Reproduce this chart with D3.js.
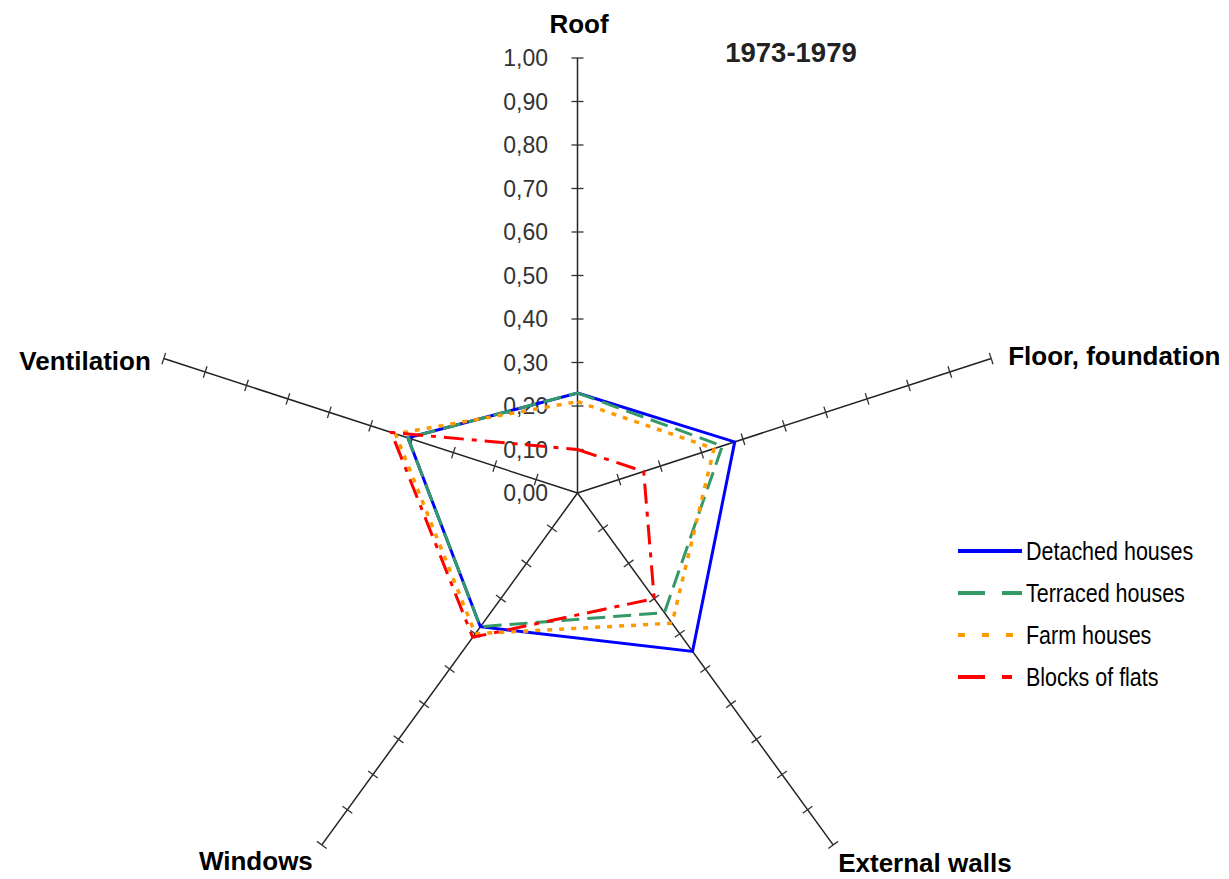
<!DOCTYPE html>
<html>
<head>
<meta charset="utf-8">
<script src="https://cdn.jsdelivr.net/npm/d3@7"></script>
<style>
  body { margin: 0; background: #fff; }
  svg { display: block; }
</style>
</head>
<body>
<div id="chart"></div>
<script>
// data
const axesNames = ["Roof", "Floor, foundation", "External walls", "Windows", "Ventilation"];
const seriesNames = ["Detached houses", "Terraced houses", "Farm houses", "Blocks of flats"];
const detached = [0.23, 0.38, 0.45, 0.38, 0.41];
const terraced = [0.23, 0.35, 0.34, 0.38, 0.41];
const farm = [0.21, 0.33, 0.37, 0.40, 0.44];
const blocks = [0.10, 0.16, 0.30, 0.41, 0.45];
const tickValues = [0, 0.1, 0.2, 0.3, 0.4, 0.5, 0.6, 0.7, 0.8, 0.9, 1.0];
const title = "1973-1979";

const width = 1229;
const height = 879;
const cx = 577.5;
const cy = 493;
const radius = 435;

// styles per series
const styles = [
  { color: "#0000ff", dash: null, legendDash: null, w: 3 },
  { color: "#339966", dash: "18,8", legendDash: "27,17", w: 3 },
  { color: "#ff9900", dash: "5,7", legendDash: "7,17", w: 3.5 },
  { color: "#ff0000", dash: "20,8,5,8", legendDash: "27,17,10,17", w: 3 }
];

// where each axis label sits relative to the axis end
const labelPos = [
  { dx: 1.5, dy: -25, anchor: "middle" },
  { dx: 17, dy: 6.5, anchor: "start" },
  { dx: 5, dy: 27, anchor: "start" },
  { dx: -9, dy: 25, anchor: "end" },
  { dx: -13, dy: 11.5, anchor: "end" }
];

const r = d3.scaleLinear().domain([0, 1]).range([0, radius]);
const angle = d3.scaleLinear().domain([0, axesNames.length]).range([-90, 270]);
const fmt = (v) => d3.format(".2f")(v).replace(".", ",");

const svg = d3
  .select("#chart")
  .append("svg")
  .attr("width", width)
  .attr("height", height);

const g = svg.append("g").attr("transform", `translate(${cx},${cy})`);

// axes with tick marks
axesNames.forEach((name, i) => {
  const ax = g.append("g").attr("transform", `rotate(${angle(i)})`);
  ax.append("line")
    .attr("x1", 0)
    .attr("y1", 0)
    .attr("x2", r(1))
    .attr("y2", 0)
    .attr("stroke", "#222")
    .attr("stroke-width", 1.5);
  ax.selectAll(".tk")
    .data(tickValues.slice(1))
    .enter()
    .append("line")
    .attr("class", "tk")
    .attr("x1", (d) => r(d))
    .attr("x2", (d) => r(d))
    .attr("y1", -6)
    .attr("y2", 6)
    .attr("stroke", "#333")
    .attr("stroke-width", 1.3);
});

// value labels on the roof axis
g.selectAll(".tl")
  .data(tickValues)
  .enter()
  .append("text")
  .attr("class", "tl")
  .attr("x", -29.5)
  .attr("y", (d) => -r(d))
  .attr("dy", "0.36em")
  .attr("text-anchor", "end")
  .style("font-family", "'Liberation Sans', Arial, sans-serif")
  .style("font-size", "23px")
  .style("fill", "#333")
  .text((d) => fmt(d));

// series polygons
const point = (v, i) => {
  const a = (angle(i) * Math.PI) / 180;
  return [r(v) * Math.cos(a), r(v) * Math.sin(a)];
};
const line = d3.line().curve(d3.curveLinearClosed);
const allSeries = [detached, terraced, farm, blocks];

allSeries.forEach((vals, s) => {
  g.append("path")
    .attr("d", line(vals.map(point)))
    .attr("fill", "none")
    .attr("stroke", styles[s].color)
    .attr("stroke-width", styles[s].w)
    .attr("stroke-dasharray", styles[s].dash)
    .attr("stroke-linejoin", "miter");
});

// axis labels
axesNames.forEach((name, i) => {
  const [x, y] = point(1, i);
  g.append("text")
    .attr("x", x + labelPos[i].dx)
    .attr("y", y + labelPos[i].dy)
    .attr("text-anchor", labelPos[i].anchor)
    .style("font-family", "'Liberation Sans', Arial, sans-serif")
    .style("font-weight", "bold")
    .style("font-size", "26px")
    .style("fill", "#000")
    .text(name);
});

// title
svg.append("text")
  .attr("x", 791)
  .attr("y", 62)
  .attr("text-anchor", "middle")
  .style("font-family", "'Liberation Sans', Arial, sans-serif")
  .style("font-weight", "bold")
  .style("font-size", "27.5px")
  .style("fill", "#222")
  .text(title);

// legend (narrow font is faked with a horizontal squeeze)
const legendY = d3.scaleLinear().domain([0, 1]).range([551, 593]);
const legend = svg.append("g");
seriesNames.forEach((name, s) => {
  const y = legendY(s);
  legend.append("line")
    .attr("x1", 958)
    .attr("x2", 1022)
    .attr("y1", y)
    .attr("y2", y)
    .attr("stroke", styles[s].color)
    .attr("stroke-width", 4)
    .attr("stroke-dasharray", styles[s].legendDash);
  legend.append("text")
    .attr("transform", `translate(1026,${y + 9}) scale(0.86,1)`)
    .style("font-family", "'Liberation Sans', Arial, sans-serif")
    .style("font-size", "25px")
    .style("fill", "#000")
    .text(name);
});
</script>
</body>
</html>
